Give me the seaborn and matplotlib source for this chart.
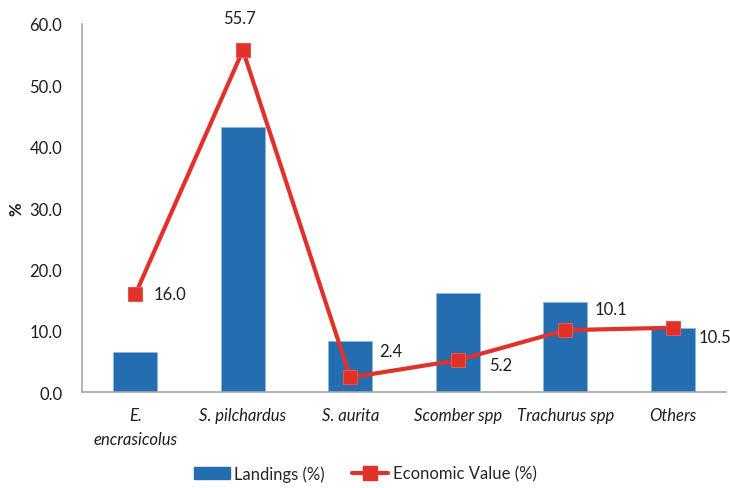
import numpy as np
import pandas as pd
import matplotlib
matplotlib.use("Agg")
import matplotlib.pyplot as plt
import seaborn as sns
from matplotlib.patches import Patch
from matplotlib.lines import Line2D

species = ["E.\nencrasicolus", "S. pilchardus", "S. aurita", "Scomber spp", "Trachurus spp", "Others"]
landings = [6.5, 43.2, 8.3, 16.1, 14.7, 10.4]
economic_value = [16.0, 55.7, 2.4, 5.2, 10.1, 10.5]
yticks = [0, 10, 20, 30, 40, 50, 60]

sns.set_theme(style="white")
plt.rcParams["font.family"] = ["Lato", "DejaVu Sans"]

bar_color = "#256DB1"
line_color = "#E0322A"
text_color = "#1E1E1E"
fs = 12

fig = plt.figure(figsize=(7.3, 4.89), dpi=100)
ax = fig.add_axes([0.112, 0.196, 0.883, 0.753])

df = pd.DataFrame({"species": species, "landings": landings, "value": economic_value})
sns.barplot(data=df, x="species", y="landings", color=bar_color, saturation=1,
            width=0.41, ax=ax, edgecolor="#8FB8E0", linewidth=0.6)

pos = np.arange(len(species))
sns.lineplot(x=pos, y=economic_value, color=line_color, lw=3, marker="s",
             markersize=10.5, markeredgecolor="#E8554D", markeredgewidth=0.8,
             ax=ax, sort=False)

# value labels for the economic value series (offsets in pixels)
offsets_px = [(18, 0, "left"), (-3, 32, "center"), (29, 26, "left"),
              (31, -5, "left"), (29, 21, "left"), (26, -9, "left")]
px2pt = 72 / fig.dpi
for x, v, (dx, dy, ha) in zip(pos, economic_value, offsets_px):
    ax.annotate(f"{v:.1f}", (x, v), xytext=(dx * px2pt, dy * px2pt),
                textcoords="offset points", ha=ha, va="center",
                fontsize=fs, color=text_color, annotation_clip=False)

ax.set_xlim(-0.5, len(species) - 0.5)
ax.set_ylim(0, 60)
ax.set_yticks(yticks)
ax.set_yticklabels([f"{t:.1f}" for t in yticks], fontsize=fs, color=text_color)
ax.set_xticks(pos)
ax.set_xticklabels(species, fontsize=fs, style="italic", color=text_color,
                   linespacing=1.55)
ax.set_xlabel("")
ax.set_ylabel("%", fontsize=fs, fontweight="bold", color=text_color, labelpad=4)
ax.tick_params(axis="y", length=0, pad=14)
ax.tick_params(axis="x", length=0, pad=11)

for s in ["top", "right"]:
    ax.spines[s].set_visible(False)
for s in ["left", "bottom"]:
    ax.spines[s].set_color("#A6A6A6")
    ax.spines[s].set_linewidth(1.2)

handles = [Patch(facecolor=bar_color, edgecolor=bar_color, label="Landings (%)"),
           Line2D([0], [0], color=line_color, lw=3, marker="s", markersize=10.5,
                  label="Economic Value (%)")]
fig.legend(handles=handles, loc="lower center", bbox_to_anchor=(0.5, -0.018), ncol=2,
           frameon=False, fontsize=fs, handlelength=2.2, handletextpad=0.25,
           columnspacing=1.6)

fig.savefig("out.png", dpi=100)
